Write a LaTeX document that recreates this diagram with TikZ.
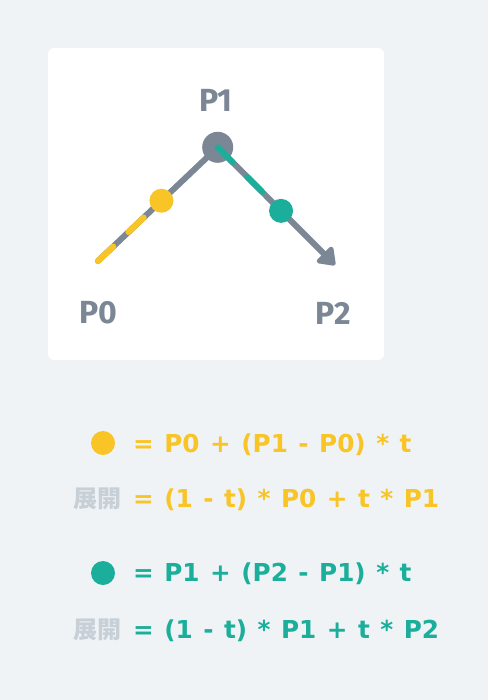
\documentclass[tikz,border=0pt]{standalone}
\usepackage{fontspec}
\setmainfont{Fira Sans}
\newfontfamily\formfont{DejaVu Sans}[WordSpace=1.22]
\newfontfamily\cjkfont{Noto Sans CJK JP}
\usetikzlibrary{arrows.meta,calc}
\definecolor{bg}{RGB}{239,243,246}
\definecolor{slate}{RGB}{123,135,148}
\definecolor{amber}{RGB}{248,196,38}
\definecolor{teal2}{RGB}{27,174,154}
\definecolor{mute}{RGB}{200,208,215}
\tikzset{
  ptlabel/.style={text=slate, font=\fontsize{32}{32}\selectfont\bfseries, inner sep=0pt},
  formula/.style={font=\formfont\fontsize{24.7}{26}\selectfont\bfseries, inner sep=0pt, anchor=base west},
  expand/.style={text=mute, font=\cjkfont\fontsize{24}{24}\selectfont\bfseries, inner sep=0pt, anchor=base east},
  dot/.style={circle, fill=#1, inner sep=0pt, minimum size=24pt},
  dashover/.style={draw=#1, line width=6pt, line cap=round, dash pattern=on 21pt off 21pt},
}
\begin{document}
\begin{tikzpicture}[x=1pt,y=-1pt]
\useasboundingbox (0,0) rectangle (488,700);
\fill[bg] (0,0) rectangle (488,700);
\fill[white, rounded corners=6pt] (48,48) rectangle (384,360);
\coordinate (P0) at (98,261);
\coordinate (P1) at (217.7,147.3);
\coordinate (P2) at (335,265);
\coordinate (ypos) at ($(P0)!0.53!(P1)$);
\coordinate (tpos) at ($(P1)!0.54!(P2)$);
\draw[slate, line width=6pt, line cap=round, line join=round, -{Triangle[length=18pt,width=25pt,round]}] (P0) -- (P1) -- (P2);
\node[dot=slate, minimum size=31pt] (p1dot) at (P1) {};
\draw[dashover=amber] (P0) -- (ypos);
\draw[dashover=teal2] (P1) -- (tpos);
\node[dot=amber] (ydot) at (ypos) {};
\node[dot=teal2] (tdot) at (tpos) {};
\node[ptlabel] (l1) at (216,100) {P1};
\node[ptlabel] (l0) at (98,313) {P0};
\node[ptlabel] (l2) at (333,313) {P2};
\node[dot=amber] (f1dot) at (103,443) {};
\node[formula, text=amber] (f1) at (133,452) {= P0 + (P1 - P0) * t};
\node[expand] (e1) at (122,507) {展開};
\node[formula, text=amber] (f2) at (133,507) {= (1 - t) * P0 + t * P1};
\node[dot=teal2] (f3dot) at (103,573) {};
\node[formula, text=teal2] (f3) at (133,581) {= P1 + (P2 - P1) * t};
\node[expand] (e2) at (122,638) {展開};
\node[formula, text=teal2] (f4) at (133,638) {= (1 - t) * P1 + t * P2};
\end{tikzpicture}
\end{document}
